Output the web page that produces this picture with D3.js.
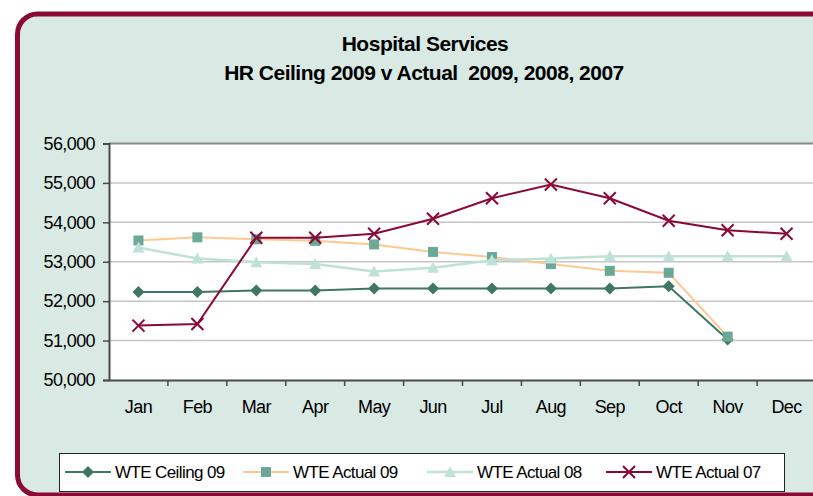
<!DOCTYPE html>
<html lang="en">
<head>
<meta charset="utf-8">
<title>Hospital Services HR Ceiling</title>
<script src="https://d3js.org/d3.v7.min.js"></script>
<style type="text/css">
  body { margin: 0; background: #fff; }
  svg { display: block; font-family: "Liberation Sans", Arial, sans-serif; }
  .title { font-size: 21px; font-weight: bold; fill: #000; white-space: pre; letter-spacing: -0.5px; }
  .tick text { font-size: 18px; fill: #000; letter-spacing: -0.6px; }
  .legend text { font-size: 17px; fill: #000; letter-spacing: -0.6px; }
</style>
</head>
<body>
<svg width="813" height="496"></svg>
<script type="text/javascript">

// data
const months = ["Jan", "Feb", "Mar", "Apr", "May", "Jun", "Jul", "Aug", "Sep", "Oct", "Nov", "Dec"];
const ceiling09 = [52230, 52230, 52270, 52270, 52320, 52320, 52320, 52320, 52320, 52380, 51030, null];
const actual09  = [53540, 53620, 53570, 53530, 53440, 53250, 53120, 52940, 52770, 52720, 51100, null];
const actual08  = [53360, 53080, 52990, 52940, 52750, 52850, 53040, 53080, 53140, 53140, 53140, 53140];
const actual07  = [51380, 51420, 53610, 53610, 53710, 54090, 54610, 54960, 54610, 54040, 53800, 53710];
const yTicks = [50000, 51000, 52000, 53000, 54000, 55000, 56000];

const series = [
  { name: "WTE Ceiling 09", values: ceiling09, line: "#3f7664", fill: "#3f7664", marker: "diamond", width: 2 },
  { name: "WTE Actual 09",  values: actual09,  line: "#ffc88f", fill: "#6aa897", marker: "square",  width: 2 },
  { name: "WTE Actual 08",  values: actual08,  line: "#bfe2d8", fill: "#bfe2d8", marker: "triangle", width: 2.5 },
  { name: "WTE Actual 07",  values: actual07,  line: "#8b0a35", fill: "#8b0a35", marker: "cross",   width: 2 }
];

const svg = d3.select("svg");

// outer frame
svg.append("rect")
   .attr("x", 17.5).attr("y", 14)
   .attr("width", 900).attr("height", 481)
   .attr("rx", 20).attr("ry", 20)
   .attr("fill", "#d9e9e3")
   .attr("stroke", "#8b0a35")
   .attr("stroke-width", 5);

// titles
svg.append("text").attr("class", "title")
   .attr("x", 425).attr("y", 51).attr("text-anchor", "middle")
   .text("Hospital Services");
svg.append("text").attr("class", "title")
   .attr("x", 424).attr("y", 80).attr("text-anchor", "middle")
   .text("HR Ceiling 2009 v Actual  2009, 2008, 2007");

const plotL = 109, plotR = 816, plotT = 143.5, plotB = 380;

const x = d3.scaleBand().domain(months).range([plotL, plotR]);
const y = d3.scaleLinear().domain([50000, 56000]).range([plotB, plotT]);

// plot area
svg.append("rect")
   .attr("x", plotL).attr("y", plotT)
   .attr("width", plotR - plotL).attr("height", plotB - plotT)
   .attr("fill", "#fff");

// gridlines
svg.append("g").selectAll("line")
   .data(yTicks.slice(1))
   .join("line")
   .attr("x1", plotL).attr("x2", plotR)
   .attr("y1", d => y(d)).attr("y2", d => y(d))
   .attr("stroke", d => d === 56000 ? "#8a8a8a" : "#c6c6c6")
   .attr("stroke-width", d => d === 56000 ? 2 : 1.5);

// axes
const yAxis = svg.append("g")
   .attr("transform", `translate(${plotL},0)`)
   .call(d3.axisLeft(y).tickValues(yTicks).tickFormat(d3.format(",")).tickSize(6).tickPadding(8));
const xAxis = svg.append("g")
   .attr("transform", `translate(0,${plotB})`)
   .call(d3.axisBottom(x).tickSize(0).tickPadding(20));

yAxis.select(".domain").attr("stroke", "#4a4a4a").attr("stroke-width", 2);
yAxis.selectAll(".tick line").attr("stroke", "#4a4a4a").attr("stroke-width", 1.5);
xAxis.select(".domain").attr("stroke", "#4a4a4a").attr("stroke-width", 2);
xAxis.attr("font-family", null).attr("font-size", null);
yAxis.attr("font-family", null).attr("font-size", null);

// x category tick marks at band edges
svg.append("g").selectAll("line")
   .data(months.slice(1))
   .join("line")
   .attr("x1", d => x(d)).attr("x2", d => x(d))
   .attr("y1", plotB).attr("y2", plotB + 6)
   .attr("stroke", "#4a4a4a").attr("stroke-width", 1.5);

const cx = d => x(d) + x.bandwidth() / 2;

function drawMarker(g, type, color) {
  if (type === "diamond") {
    g.append("path").attr("d", "M0,-6 L6,0 L0,6 L-6,0 Z").attr("fill", color);
  } else if (type === "square") {
    g.append("rect").attr("x", -5).attr("y", -5).attr("width", 10).attr("height", 10).attr("fill", color);
  } else if (type === "triangle") {
    g.append("path").attr("d", "M0,-6 L6,5 L-6,5 Z").attr("fill", color);
  } else {
    g.append("path").attr("d", "M-6,-6 L6,6 M-6,6 L6,-6")
     .attr("stroke", color).attr("stroke-width", 2).attr("fill", "none");
  }
}

const line = d3.line()
   .defined(d => d.v !== null)
   .x(d => cx(d.m))
   .y(d => y(d.v));

series.forEach(s => {
  const pts = months.map((m, i) => ({ m: m, v: s.values[i] }));
  svg.append("path")
     .datum(pts)
     .attr("d", line)
     .attr("fill", "none")
     .attr("stroke", s.line)
     .attr("stroke-width", s.width);
  pts.filter(p => p.v !== null).forEach(p => {
    const g = svg.append("g").attr("transform", `translate(${cx(p.m)},${y(p.v)})`);
    drawMarker(g, s.marker, s.fill);
  });
});

// legend
const legend = svg.append("g").attr("class", "legend");
legend.append("rect")
   .attr("x", 59.5).attr("y", 453.5)
   .attr("width", 725).attr("height", 38)
   .attr("fill", "#fff").attr("stroke", "#222").attr("stroke-width", 1);

const legendX = [65, 243, 427, 606];
series.forEach((s, i) => {
  const g = legend.append("g").attr("transform", `translate(${legendX[i]},472)`);
  g.append("line").attr("x1", 0).attr("x2", 46).attr("y1", 0).attr("y2", 0)
   .attr("stroke", s.line).attr("stroke-width", s.width);
  drawMarker(g.append("g").attr("transform", "translate(23,0)"), s.marker, s.fill);
  g.append("text").attr("x", 50).attr("y", 6).text(s.name);
});

</script>
</body>
</html>
